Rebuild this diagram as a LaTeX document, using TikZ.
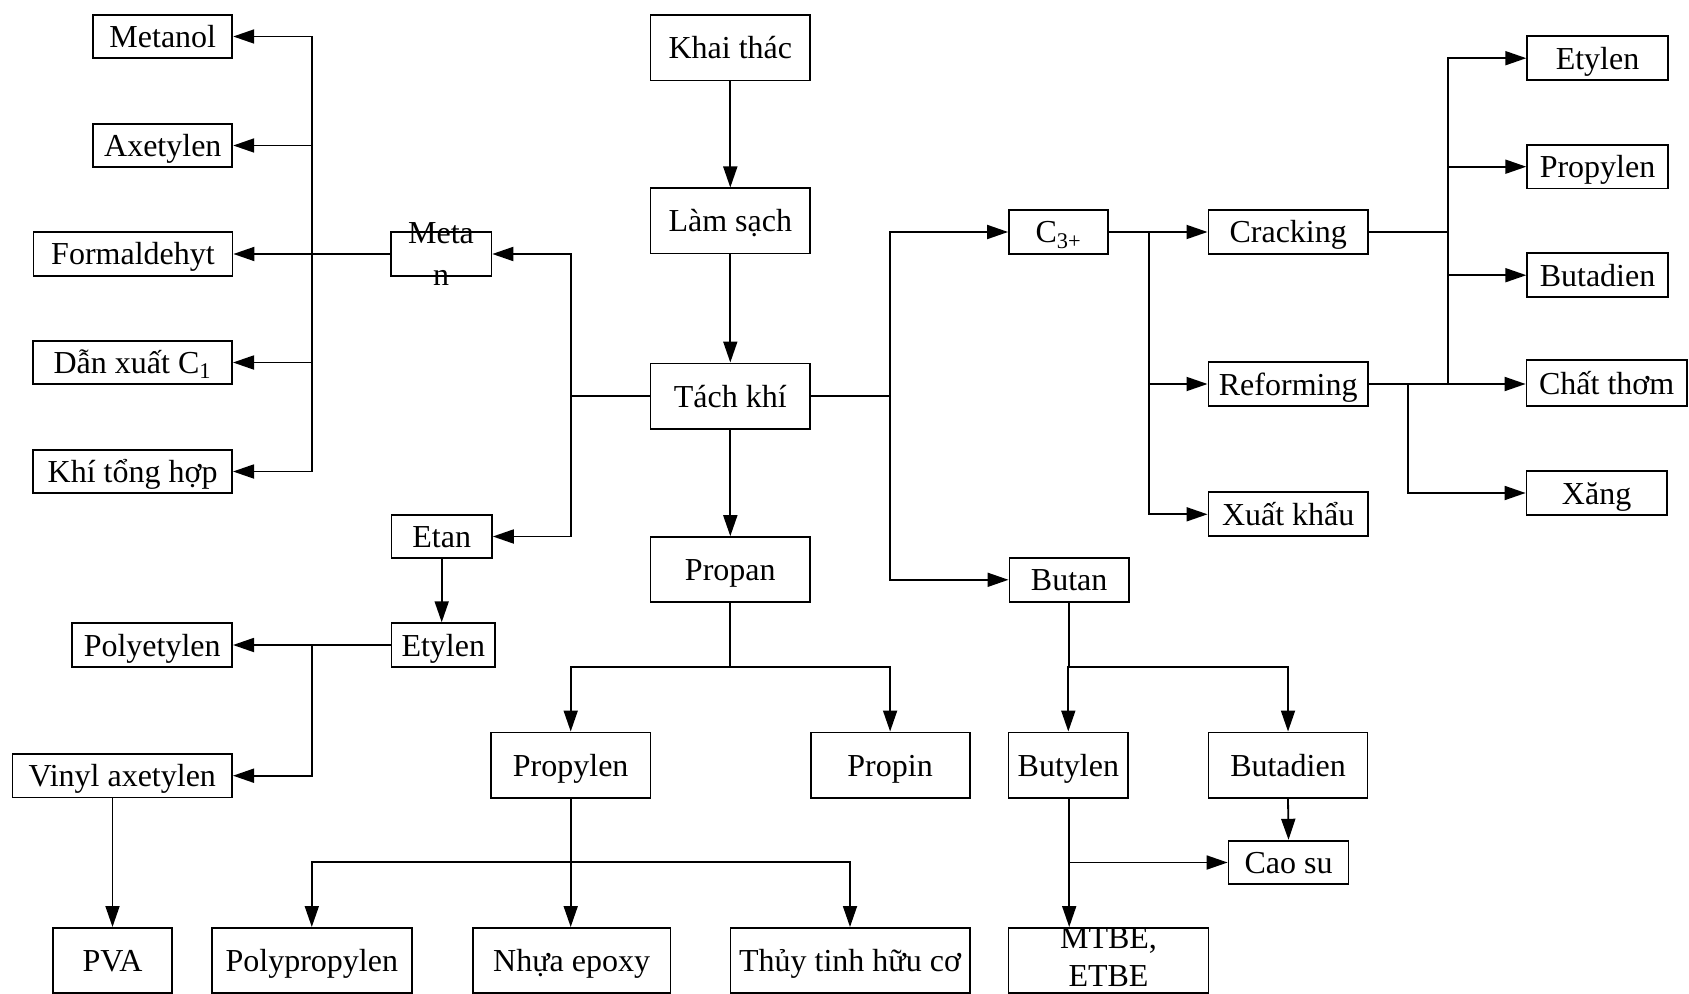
\documentclass[tikz,border=0pt]{standalone}
\usepackage{fontspec}
\setmainfont{Liberation Serif}
\usetikzlibrary{arrows.meta}

\begin{document}
\begin{tikzpicture}[x=0.5pt, y=-0.5pt, line width=0.9pt,
	font=\fontsize{16}{19}\selectfont,
	box/.style={draw, inner sep=0pt, text height=11pt, text depth=0pt, minimum height=21.8pt},
	tall/.style={box, minimum height=32.6pt},
	arr/.style={-{Triangle[length=10.5pt,width=7pt]}}]
	\useasboundingbox (0,0) rectangle (1689,994);
	% nhanh metan
	\node[box, minimum width=69.5pt] (metanol) at (162.8,36.5) {Metanol};
	\node[box, minimum width=69.5pt] (axetylen) at (162.8,145.5) {Axetylen};
	\node[box, minimum width=99.5pt] (formal) at (133,254) {Formaldehyt};
	\node[box, minimum width=99.5pt] (danxuat) at (132.6,362.5) {Dẫn xuất C\textsubscript{1}};
	\node[box, minimum width=99.5pt] (khitong) at (132.6,471.5) {Khí tổng hợp};
	\node[box, minimum width=50.4pt, minimum height=22pt] (metan) at (441,254) {};
	\node[align=center, font=\fontsize{16}{21}\selectfont] at (metan) {Meta\\n};
	% cot giua
	\node[tall, minimum width=79.8pt] (khaithac) at (730.3,48) {Khai thác};
	\node[tall, minimum width=79.8pt] (lamsach) at (730.3,221) {Làm sạch};
	\node[tall, minimum width=79.8pt] (tachkhi) at (730.3,396) {Tách khí};
	\node[tall, minimum width=79.8pt] (propan) at (730.3,569.7) {Propan};
	% nhanh etan
	\node[box, minimum width=50.2pt] (etan) at (441.7,536.5) {Etan};
	\node[box, minimum width=51.8pt] (etylenL) at (443.3,645) {Etylen};
	\node[box, minimum width=79.9pt] (polyetylen) at (152.2,645) {Polyetylen};
	\node[box, minimum width=109.8pt] (vinyl) at (122.3,775.7) {Vinyl axetylen};
	\node[tall, minimum width=59.8pt] (pva) at (112.5,960.5) {PVA};
	% nhanh propan
	\node[tall, minimum width=79.7pt] (propylenC) at (570.7,765) {Propylen};
	\node[tall, minimum width=79.5pt] (propin) at (890.1,765) {Propin};
	\node[tall, minimum width=99.8pt] (polypro) at (311.8,960.5) {Polypropylen};
	\node[tall, minimum width=98.9pt] (nhua) at (571.6,960.5) {Nhựa epoxy};
	\node[tall, minimum width=119.6pt] (thuy) at (850,960.5) {Thủy tinh hữu cơ};
	% nhanh C3+
	\node[box, minimum width=49.6pt, minimum height=22pt] (c3) at (1058.6,232) {C\textsubscript{3+}};
	\node[box, minimum width=79.8pt] (cracking) at (1288.2,232) {Cracking};
	\node[box, minimum width=79.8pt] (reforming) at (1288.2,384) {Reforming};
	\node[box, minimum width=79.8pt, minimum height=22pt] (xuatkhau) at (1288.2,514.3) {Xuất khẩu};
	\node[box, minimum width=70.3pt] (etylenR) at (1597.5,58.2) {Etylen};
	\node[box, minimum width=70.3pt] (propylenR) at (1597.5,166.7) {Propylen};
	\node[box, minimum width=70.3pt] (butadienR) at (1597.5,275.2) {Butadien};
	\node[box, minimum width=80.1pt, minimum height=22.7pt] (chatthom) at (1606.6,383) {Chất thơm};
	\node[box, minimum width=70.1pt] (xang) at (1596.6,493) {Xăng};
	% nhanh butan
	\node[box, minimum width=59.8pt] (butan) at (1069.2,579.8) {Butan};
	\node[tall, minimum width=59.8pt] (butylen) at (1068.3,765) {Butylen};
	\node[tall, minimum width=79.5pt] (butadienB) at (1288,765) {Butadien};
	\node[box, minimum width=60pt] (caosu) at (1288.5,862.5) {Cao su};
	\node[tall, minimum width=100pt] (mtbe) at (1108.5,960.5) {};
	\node[align=center] at (1108.5,957) {MTBE,\\ETBE};

	% cac diem re nhanh
	\coordinate (b1) at (312,254);
	\coordinate (j1) at (571,396);
	\coordinate (j2) at (311.6,645);
	\coordinate (j3) at (730.3,666.7);
	\coordinate (j4) at (570.7,862.3);
	\coordinate (j5) at (889.7,396);
	\coordinate (j6) at (1149.2,232);
	\coordinate (j7) at (1447.7,232);
	\coordinate (j8) at (1407.9,384);
	\coordinate (j9) at (1069.2,666.7);

	\draw[arr] (khaithac) -- (lamsach);
	\draw[arr] (lamsach) -- (tachkhi);
	\draw[arr] (tachkhi) -- (propan);

	\draw[arr] (metan.west) -- (formal.east);
	\draw[arr] (b1) |- (metanol.east);
	\draw[arr] (b1) |- (axetylen.east);
	\draw[arr] (b1) |- (danxuat.east);
	\draw[arr] (b1) |- (khitong.east);

	\draw[arr] (tachkhi.west) -- (j1) |- (metan.east);
	\draw[arr] (j1) |- (etan.east);
	\draw[arr] (etan.south) -- (etan.south |- etylenL.north);
	\draw[arr] (etylenL.west) -- (polyetylen.east);
	\draw[arr] (j2) |- (vinyl.east);
	\draw[arr] (vinyl.south -| pva.north) -- (pva.north);

	\draw (propan.south) -- (j3);
	\draw[arr] (j3) -| (propylenC.north);
	\draw[arr] (j3) -| (propin.north);
	\draw[arr] (propylenC.south) -- (propylenC.south |- nhua.north);
	\draw[arr] (j4) -| (polypro.north);
	\draw[arr] (j4) -| (thuy.north);

	\draw (tachkhi.east) -- (j5);
	\draw[arr] (j5) |- (c3.west);
	\draw[arr] (j5) |- (butan.west);
	\draw[arr] (c3.east) -- (c3.east -| cracking.west);
	\draw[arr] (j6) |- (reforming.west);
	\draw[arr] (j6) |- (xuatkhau.west);

	\draw (cracking.east) -- (j7) -- (j7 |- reforming.east);
	\draw[arr] (j7) |- (etylenR.west);
	\draw[arr] (j7) |- (propylenR.west);
	\draw[arr] (j7) |- (butadienR.west);
	\draw[arr] (reforming.east) -- (reforming.east -| chatthom.west);
	\draw[arr] (j8) |- (xang.west);

	\draw (butan.south) -- (j9);
	\draw[arr] (j9) -| (butylen.north);
	\draw[arr] (j9) -| (butadienB.north);
	\draw[arr] (butadienB.south) -- (caosu.north);
	\draw[arr] (butylen.south -| j9) -- (j9 |- mtbe.north);
	\draw[arr] (j9 |- caosu.west) -- (caosu.west);
\end{tikzpicture}
\end{document}
